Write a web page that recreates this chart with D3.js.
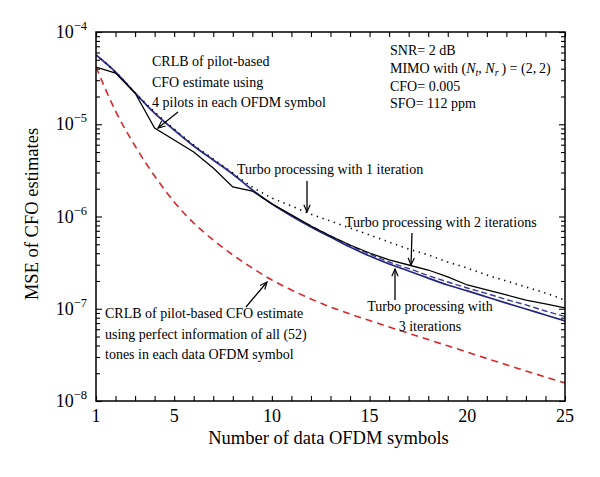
<!DOCTYPE html>
<html><head><meta charset="utf-8">
<script src="https://cdn.jsdelivr.net/npm/d3@7"></script>
<style>html,body{margin:0;padding:0;background:#fff}</style>
</head><body><svg id="c" width="600" height="477"></svg>
<script>
// ---- data ----
const symbols = [1,2,3,4,5,6,7,8,9,10,11,12,13,14,15,16,17,18,19,20,21,22,23,24,25];
// CRLB of pilot-based CFO estimate, 4 pilots (blue solid)
const crlbPilots = [5.63e-5,3.68e-5,2.18e-5,1.32e-5,8.66e-6,5.81e-6,4.10e-6,2.89e-6,1.94e-6,1.37e-6,
  1.01e-6,7.69e-7,6.00e-7,4.67e-7,3.73e-7,3.06e-7,2.57e-7,2.15e-7,1.81e-7,1.56e-7,1.34e-7,1.15e-7,9.94e-8,8.55e-8,7.37e-8];
// Turbo processing, 1 iteration (dotted)
const turbo1 = [5.63e-5,3.68e-5,2.20e-5,1.36e-5,8.88e-6,5.96e-6,4.20e-6,2.96e-6,2.09e-6,1.59e-6,
  1.30e-6,1.06e-6,8.94e-7,7.50e-7,6.30e-7,5.29e-7,4.44e-7,3.83e-7,3.21e-7,2.76e-7,2.32e-7,2.00e-7,1.72e-7,1.48e-7,1.24e-7];
// Turbo processing, 2 iterations (black solid)
const turbo2 = [4.17e-5,3.59e-5,2.18e-5,9.11e-6,6.75e-6,5.00e-6,3.35e-6,2.09e-6,1.89e-6,1.37e-6,
  1.04e-6,7.89e-7,6.15e-7,4.91e-7,4.02e-7,3.38e-7,2.98e-7,2.63e-7,2.21e-7,1.81e-7,1.60e-7,1.41e-7,1.24e-7,1.13e-7,1.02e-7];
// Turbo processing, 3 iterations (blue dashed)
const turbo3 = [5.63e-5,3.68e-5,2.18e-5,1.32e-5,8.66e-6,5.81e-6,4.10e-6,2.89e-6,1.94e-6,1.37e-6,
  1.025e-6,7.89e-7,6.15e-7,4.85e-7,3.92e-7,3.21e-7,2.73e-7,2.29e-7,1.95e-7,1.68e-7,1.46e-7,1.26e-7,1.10e-7,9.45e-8,8.24e-8];
// CRLB with perfect information of all 52 tones (red dashed)
const crlbFull = [4.17e-5,1.39e-5,5.81e-6,2.75e-6,1.44e-6,8.50e-7,5.56e-7,3.83e-7,2.76e-7,2.05e-7,
  1.60e-7,1.275e-7,1.045e-7,8.77e-8,7.46e-8,6.34e-8,5.42e-8,4.63e-8,3.96e-8,3.38e-8,2.89e-8,2.47e-8,2.12e-8,1.82e-8,1.57e-8];

const xTickLabels = [1,5,10,15,20,25];
const yDecades = [-8,-7,-6,-5,-4];
const xTitle = "Number of data OFDM symbols";
const yTitle = "MSE of CFO estimates";

// ---- drawing ----
const FONT = "'Liberation Serif','Times New Roman',serif";
const svg = d3.select("#c").style("font-family", FONT);
const L = 96, R = 565, T = 32, B = 401;
const x = d3.scaleLinear().domain([1,25]).range([L,R]);
const y = d3.scaleLog().domain([1e-8,1e-4]).range([B,T]);

const defs = svg.append("defs");
defs.append("clipPath").attr("id","clip")
  .append("rect").attr("x",L).attr("y",T).attr("width",R-L).attr("height",B-T);
defs.append("marker").attr("id","arr").attr("viewBox","0 0 10 10").attr("refX",9).attr("refY",5)
  .attr("markerWidth",9).attr("markerHeight",9).attr("markerUnits","userSpaceOnUse").attr("orient","auto")
  .append("path").attr("d","M1,1.5 L9,5 L1,8.5").attr("fill","none").attr("stroke","#000").attr("stroke-width",1.3);

// ticks (inward)
const minor = [];
for (let e=-8; e<-4; e++) for (let k=2;k<=9;k++) minor.push(k*Math.pow(10,e));
const decades = yDecades.map(e=>Math.pow(10,e));
function styleAxis(g){ g.select(".domain").remove(); g.selectAll(".tick line").attr("stroke","#000").attr("stroke-width",1.1); g.selectAll("text").remove(); }
svg.append("g").attr("transform",`translate(0,${B})`).call(d3.axisBottom(x).tickValues(symbols).tickSize(-5)).call(styleAxis);
svg.append("g").attr("transform",`translate(0,${T})`).call(d3.axisTop(x).tickValues(symbols).tickSize(-5)).call(styleAxis);
svg.append("g").attr("transform",`translate(${L},0)`).call(d3.axisLeft(y).tickValues(minor).tickSize(-4)).call(styleAxis);
svg.append("g").attr("transform",`translate(${R},0)`).call(d3.axisRight(y).tickValues(minor).tickSize(-4)).call(styleAxis);
svg.append("g").attr("transform",`translate(${L},0)`).call(d3.axisLeft(y).tickValues(decades).tickSize(-6)).call(styleAxis);
svg.append("g").attr("transform",`translate(${R},0)`).call(d3.axisRight(y).tickValues(decades).tickSize(-6)).call(styleAxis);

// lines
const plot = svg.append("g").attr("clip-path","url(#clip)");
function series(vals){ return symbols.map((n,i)=>({n, v: vals[i]})); }
const smooth = d3.line().x(d=>x(d.n)).y(d=>y(d.v)).curve(d3.curveMonotoneX);
const straight = d3.line().x(d=>x(d.n)).y(d=>y(d.v));
plot.append("path").attr("d",smooth(series(crlbFull))).attr("fill","none").attr("stroke","#d8262c").attr("stroke-width",1.6).attr("stroke-dasharray","7,5");
plot.append("path").attr("d",smooth(series(crlbPilots))).attr("fill","none").attr("stroke","#25257f").attr("stroke-width",1.7);
plot.append("path").attr("d",smooth(series(turbo3))).attr("fill","none").attr("stroke","#3b3b9c").attr("stroke-width",1.4).attr("stroke-dasharray","6,3");
plot.append("path").attr("d",straight(series(turbo2))).attr("fill","none").attr("stroke","#000").attr("stroke-width",1.3);
plot.append("path").attr("d",smooth(series(turbo1))).attr("fill","none").attr("stroke","#000").attr("stroke-width",1.6).attr("stroke-dasharray","1.3,4.7");

// frame
svg.append("rect").attr("x",L).attr("y",T).attr("width",R-L).attr("height",B-T).attr("fill","none").attr("stroke","#000").attr("stroke-width",1.5);

// tick labels
svg.append("g").selectAll("text").data(xTickLabels).join("text")
  .attr("x",d=>x(d)).attr("y",B+21).attr("text-anchor","middle").attr("font-size",18).text(d=>d);
const yl = svg.append("g").selectAll("text").data(yDecades).join("text")
  .attr("x",L-9).attr("y",d=>y(Math.pow(10,d))+6).attr("text-anchor","end").attr("font-size",18);
yl.append("tspan").text("10");
yl.append("tspan").attr("dy",-8).attr("font-size",12.5).text(d=>"\u2212"+Math.abs(d));

// axis titles
svg.append("text").attr("x",(L+R)/2-2).attr("y",444).attr("text-anchor","middle").attr("font-size",18.5).text(xTitle);
svg.append("text").attr("transform","translate(38,214) rotate(-90)").attr("text-anchor","middle").attr("font-size",18.5).text(yTitle);

// annotations
function block(x0, ys, lines, anchor){
  lines.forEach((t,i)=>svg.append("text").attr("x",x0).attr("y",ys[i]).attr("font-size",14).attr("text-anchor",anchor||"start").text(t));
}
block(152,[66,87,107],["CRLB of pilot-based","CFO estimate using","4 pilots in each OFDM symbol"]);
block(237,[174],["Turbo processing with 1 iteration"]);
block(345,[227],["Turbo processing with 2 iterations"]);
block(430,[311,331],["Turbo processing with","3 iterations"],"middle");
block(105,[318,339,359],["CRLB of pilot-based CFO estimate","using perfect information of all (52)","tones in each data OFDM symbol"]);

const info = svg.append("g").attr("font-size",14);
info.append("text").attr("x",390).attr("y",55).text("SNR= 2 dB");
const mimo = info.append("text").attr("x",390).attr("y",73);
mimo.append("tspan").text("MIMO with (");
mimo.append("tspan").attr("font-style","italic").text("N");
mimo.append("tspan").attr("font-size",10).attr("font-style","italic").attr("dy",3).text("t");
mimo.append("tspan").attr("dy",-3).text(", ");
mimo.append("tspan").attr("font-style","italic").text("N");
mimo.append("tspan").attr("font-size",10).attr("font-style","italic").attr("dy",3).text("r");
mimo.append("tspan").attr("dy",-3).text("\u2009) = (2,\u20092)");
info.append("text").attr("x",390).attr("y",91).text("CFO= 0.005");
info.append("text").attr("x",390).attr("y",108).text("SFO= 112 ppm");

const arrows = [[307,181,307,212],[412,233,411,265],[395,300,395,269],[178,112,158,128],[246,307,267,282]];
svg.append("g").selectAll("line").data(arrows).join("line")
  .attr("x1",d=>d[0]).attr("y1",d=>d[1]).attr("x2",d=>d[2]).attr("y2",d=>d[3])
  .attr("stroke","#000").attr("stroke-width",1.3).attr("marker-end","url(#arr)");
</script></body></html>
